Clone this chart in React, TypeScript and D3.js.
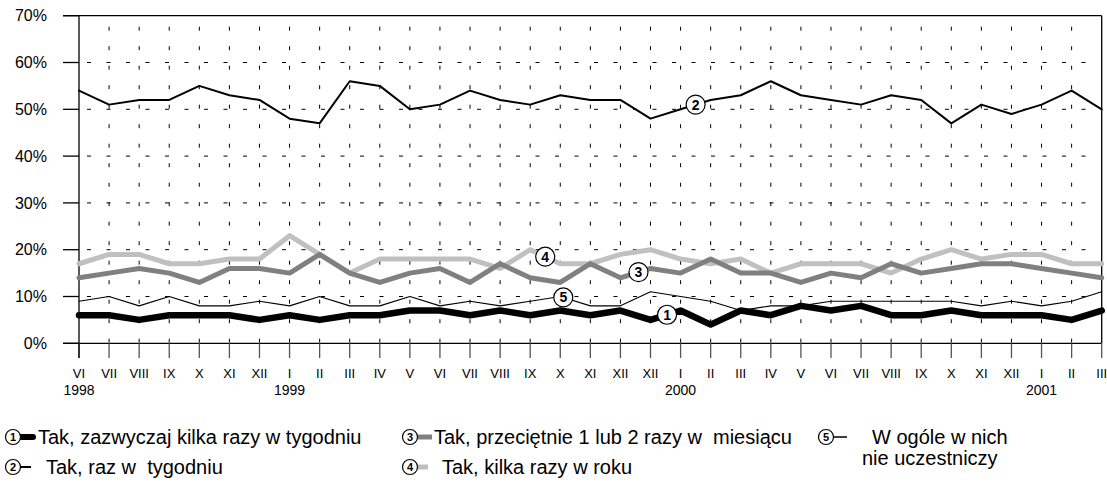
import React from 'react';
import * as d3 from 'd3';

const months = ['VI','VII','VIII','IX','X','XI','XII','I','II','III','IV','V','VI','VII','VIII','IX','X','XI','XII','XII','I','II','III','IV','V','VI','VII','VIII','IX','X','XI','XII','I','II','III'];
const yearLabels = ['1998','1999','2000','2001'];
const yearIndex = [0, 7, 20, 32];
const yTicks = [0,10,20,30,40,50,60,70];

const s1 = [6,6,5,6,6,6,5,6,5,6,6,7,7,6,7,6,7,6,7,5,7,4,7,6,8,7,8,6,6,7,6,6,6,5,7];
const s2 = [54,51,52,52,55,53,52,48,47,56,55,50,51,54,52,51,53,52,52,48,50,52,53,56,53,52,51,53,52,47,51,49,51,54,50];
const s3 = [14,15,16,15,13,16,16,15,19,15,13,15,16,13,17,14,13,17,14,16,15,18,15,15,13,15,14,17,15,16,17,17,16,15,14];
const s4 = [17,19,19,17,17,18,18,23,19,15,18,18,18,18,16,20,17,17,19,20,18,17,18,15,17,17,17,15,18,20,18,19,19,17,17];
const s5 = [9,10,8,10,8,8,9,8,10,8,8,10,8,9,8,9,10,8,8,11,10,9,7,8,8,9,9,9,9,9,8,9,8,9,11];

const seriesNames = [
  'Tak, zazwyczaj kilka razy w tygodniu',
  'Tak, raz w  tygodniu',
  'Tak, przeciętnie 1 lub 2 razy w  miesiącu',
  'Tak, kilka razy w roku',
  'W ogóle w nich',
];
const labelAt = [19.55, 20.5, 18.6, 15.5, 16.1];

const FONT = 'Liberation Sans, Arial, sans-serif';

export default function App() {
  const W = 1107, H = 488;
  const x0 = 79, x1 = 1101.7, yTop = 15.7, yBot = 343.3;
  const x = d3.scaleLinear().domain([0, months.length - 1]).range([x0, x1]);
  const y = d3.scaleLinear().domain([0, 70]).range([yBot, yTop]);
  const line = d3.line<number>().x((_, i) => x(i)).y(d => y(d));

  const data = [s1, s2, s3, s4, s5];
  const colors = ['#000', '#000', '#808080', '#c0c0c0', '#000'];
  const widths = [6.5, 2, 5, 5, 1.1];
  const drawOrder = [4, 0, 3, 2, 1];

  const interp = (arr: number[], t: number) => {
    const a = Math.floor(t), f = t - a;
    return arr[a] + f * (arr[Math.min(a + 1, arr.length - 1)] - arr[a]);
  };

  const marker = (cx: number, cy: number, n: number, r: number, fs: number) => (
    <g key={`m${n}-${cx}`}>
      <circle cx={cx} cy={cy} r={r} fill="#fff" stroke="#000" strokeWidth={1.2} />
      <text x={cx} y={cy} dy="0.36em" textAnchor="middle" fontFamily={FONT} fontWeight="bold" fontSize={fs}>{n}</text>
    </g>
  );

  const legend = [
    { n: 1, mx: 13, my: 437, lx1: 21, lx2: 33, tx: 38 },
    { n: 2, mx: 13, my: 467, lx1: 21, lx2: 31, tx: 46 },
    { n: 3, mx: 410, my: 437, lx1: 418, lx2: 432, tx: 434 },
    { n: 4, mx: 410, my: 467, lx1: 418, lx2: 428, tx: 442 },
    { n: 5, mx: 826, my: 437, lx1: 833, lx2: 847, tx: 872 },
  ];

  return (
    <svg width={W} height={H} style={{ position: 'absolute', left: 0, top: 0, background: '#fff' }}>
      {yTicks.filter(t => t > 0 && t < 70).map(t => (
        <line key={`hg${t}`} x1={x0} x2={x1} y1={y(t)} y2={y(t)} stroke="#000" strokeWidth={1} strokeDasharray="4 15.5" strokeDashoffset={-8} />
      ))}
      {months.map((_, i) => (i > 0 && i < months.length - 1) ? (
        <line key={`vg${i}`} x1={x(i)} x2={x(i)} y1={yTop} y2={yBot} stroke="#000" strokeWidth={1} strokeDasharray="4 15.5" strokeDashoffset={-11} />
      ) : null)}
      {yTicks.map(t => (
        <g key={`yt${t}`}>
          <line x1={63} x2={x0} y1={y(t)} y2={y(t)} stroke="#000" strokeWidth={1.3} />
          <text x={47} y={y(t)} dy="0.36em" textAnchor="end" fontFamily={FONT} fontSize={16}>{t}%</text>
        </g>
      ))}
      <line x1={63} x2={x1} y1={yTop} y2={yTop} stroke="#000" strokeWidth={1.3} />
      <line x1={x1} x2={x1} y1={yTop} y2={yBot} stroke="#000" strokeWidth={1.3} />
      <line x1={63} x2={x1} y1={yBot} y2={yBot} stroke="#000" strokeWidth={1.3} />
      {months.map((m, i) => (
        <g key={`xt${i}`}>
          <line x1={x(i)} x2={x(i)} y1={yBot} y2={358} stroke="#555" strokeWidth={1.3} />
          <text x={x(i)} y={373} dy="0.36em" textAnchor="middle" fontFamily={FONT} fontSize={13}>{m}</text>
        </g>
      ))}
      <line x1={x0} x2={x0} y1={yTop} y2={358} stroke="#000" strokeWidth={1.3} />
      {yearLabels.map((yl, k) => (
        <text key={yl} x={x(yearIndex[k])} y={390} dy="0.36em" textAnchor="middle" fontFamily={FONT} fontSize={14}>{yl}</text>
      ))}
      {drawOrder.map(k => (
        <path key={`s${k}`} d={line(data[k]) || ''} fill="none" stroke={colors[k]} strokeWidth={widths[k]} strokeLinejoin="round" strokeLinecap="round" />
      ))}
      {data.map((arr, k) => marker(x(labelAt[k]), y(interp(arr, labelAt[k])), k + 1, 9.5, 14))}
      {legend.map(l => (
        <g key={`lg${l.n}`}>
          <line x1={l.lx1} x2={l.lx2} y1={l.my} y2={l.my} stroke={colors[l.n - 1]} strokeWidth={l.n === 1 ? 6 : l.n === 2 ? 2 : l.n === 5 ? 1.5 : 5} strokeLinecap={l.n === 1 ? 'round' : 'butt'} />
          {marker(l.mx, l.my, l.n, 7.5, 11)}
          <text x={l.tx} y={l.my} dy="0.36em" fontFamily={FONT} fontSize={20} style={{ whiteSpace: 'pre' }}>{seriesNames[l.n - 1]}</text>
        </g>
      ))}
      <text x={862} y={458} dy="0.36em" fontFamily={FONT} fontSize={20}>nie uczestniczy</text>
    </svg>
  );
}
